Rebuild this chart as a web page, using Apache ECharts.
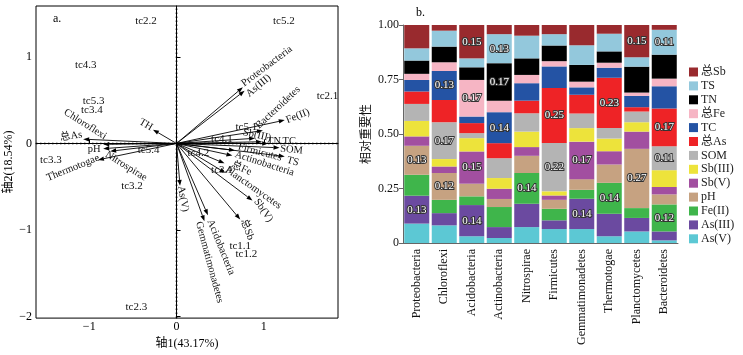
<!DOCTYPE html>
<html>
<head>
<meta charset="utf-8">
<script src="https://cdn.jsdelivr.net/npm/echarts@6/dist/echarts.min.js"></script>
<style>
html, body { margin: 0; padding: 0; background: #fff; }
#show { width: 743px; height: 355px; }
</style>
</head>
<body>
<div id="show"></div>
<script>
var myChart = echarts.init(document.getElementById("show"));
var SERIF = "'Liberation Serif', 'Noto Sans CJK SC', serif";

// ---- a. RDA biplot ----
var sampleNames = ["tc2.2", "tc5.2", "tc4.3", "tc2.1", "tc5.3", "tc3.4", "tc3.3", "tc5.1", "tc4.1", "tc5.4", "tc4.2", "tc3.1", "tc3.2", "tc1.1", "tc1.2", "tc2.3"];
var sampleX = [-0.35, 1.23, -1.04, 1.73, -0.95, -0.97, -1.44, 0.80, 0.52, -0.32, 0.25, 0.52, -0.51, 0.73, 0.80, -0.46];
var sampleY = [1.41, 1.41, 0.91, 0.55, 0.49, 0.39, -0.19, 0.19, 0.05, -0.08, -0.11, -0.31, -0.49, -1.19, -1.28, -1.89];

var arrowNames = ["Proteobacteria", "As(III)", "Bacteroidetes", "Fe(II)", "Sb(III)", "TN", "TC", "SOM", "TS",
    "Firmicutes", "Actinobacteria", "总Fe", "Planctomycetes", "Sb(V)", "总Sb", "Acidobacteria", "Gemmatimonadetes",
    "As(V)", "TH", "Chloroflexi", "总As", "pH", "Nitrospirae", "Thermotogae"];
var arrowX = [0.76, 0.78, 0.99, 1.24, 0.90, 0.98, 1.05, 1.18, 1.24, 0.67, 0.64, 0.55, 0.56, 0.87, 0.73, 0.36, 0.32, 0.04, -0.27, -0.84, -1.07, -0.84, -0.76, -0.90];
var arrowY = [0.65, 0.61, 0.15, 0.27, 0.06, 0.02, 0.00, -0.05, -0.15, -0.08, -0.14, -0.23, -0.34, -0.66, -0.88, -0.83, -0.90, -0.49, 0.16, -0.01, 0.05, -0.06, -0.09, -0.19];

// label offset from arrow tip in px, and rotation in degrees
var arrowLabelPos = {
    "Proteobacteria": [24, -21, 37],
    "As(III)": [14, -5, 40],
    "Bacteroidetes": [15, -23, 43],
    "Fe(II)": [13, -4, 22],
    "Sb(III)": [2, -3, -12],
    "TN": [12, 0, 0],
    "TC": [21, -2, 0],
    "SOM": [12, 2, -5],
    "TS": [8, 5, -15],
    "Firmicutes": [25, 2, -15],
    "Actinobacteria": [32, 8, -18],
    "总Fe": [17, 5, -25],
    "Planctomycetes": [28, 15, -35],
    "Sb(V)": [11, 10, -55],
    "总Sb": [7, 10, -70],
    "Acidobacteria": [13, 32, -68],
    "Gemmatimonadetes": [5, 41, -75],
    "As(V)": [3, 13, -80],
    "TH": [-7, -5, -30],
    "Chloroflexi": [-18, -20, -32],
    "总As": [-12, -3, 8],
    "pH": [-9, 1, 0],
    "Nitrospirae": [16, 15, -32],
    "Thermotogae": [-25, 8, 22]
};

var rdaXMin = -1.61, rdaXMax = 1.85, rdaYMin = -2.02, rdaYMax = 1.59;

// ---- b. relative importance ----
var phyla = ["Proteobacteria", "Chloroflexi", "Acidobacteria", "Actinobacteria", "Nitrospirae", "Firmicutes",
    "Gemmatimonadetes", "Thermotogae", "Planctomycetes", "Bacteroidetes"];

var asV    = [0.089, 0.081, 0.031, 0.023, 0.073, 0.064, 0.064, 0.031, 0.053, 0.012];
var asIII  = [0.128, 0.056, 0.143, 0.050, 0.107, 0.040, 0.139, 0.103, 0.062, 0.041];
var feII   = [0.096, 0.061, 0.040, 0.092, 0.141, 0.053, 0.041, 0.142, 0.045, 0.124];
var pH     = [0.133, 0.123, 0.058, 0.037, 0.079, 0.041, 0.049, 0.084, 0.272, 0.046];
var sbV    = [0.043, 0.030, 0.148, 0.047, 0.040, 0.020, 0.172, 0.061, 0.079, 0.034];
var sbIII  = [0.071, 0.034, 0.061, 0.049, 0.071, 0.019, 0.062, 0.058, 0.043, 0.077];
var som    = [0.078, 0.169, 0.023, 0.091, 0.084, 0.222, 0.067, 0.049, 0.049, 0.110];
var totAs  = [0.057, 0.102, 0.046, 0.069, 0.058, 0.252, 0.086, 0.230, 0.020, 0.173];
var tc     = [0.053, 0.133, 0.030, 0.142, 0.080, 0.099, 0.034, 0.046, 0.052, 0.102];
var totFe  = [0.028, 0.040, 0.168, 0.053, 0.038, 0.024, 0.026, 0.023, 0.015, 0.035];
var tn     = [0.061, 0.072, 0.058, 0.172, 0.076, 0.072, 0.077, 0.052, 0.119, 0.110];
var ts     = [0.056, 0.073, 0.041, 0.133, 0.104, 0.052, 0.090, 0.081, 0.043, 0.114];
var totSb  = [0.107, 0.026, 0.153, 0.042, 0.049, 0.042, 0.093, 0.040, 0.148, 0.022];

// cells that carry a value label
var labelled = [["As(III)", 0], ["pH", 0], ["pH", 1], ["SOM", 1], ["TC", 1], ["As(III)", 2], ["Sb(V)", 2],
    ["总Fe", 2], ["总Sb", 2], ["TC", 3], ["TN", 3], ["TS", 3], ["Fe(II)", 4], ["SOM", 5], ["总As", 5],
    ["As(III)", 6], ["Sb(V)", 6], ["Fe(II)", 7], ["总As", 7], ["pH", 8], ["总Sb", 8], ["Fe(II)", 9],
    ["SOM", 9], ["总As", 9], ["TS", 9]];

var stackNames = ["As(V)", "As(III)", "Fe(II)", "pH", "Sb(V)", "Sb(III)", "SOM", "总As", "TC", "总Fe", "TN", "TS", "总Sb"];
var stackValues = [asV, asIII, feII, pH, sbV, sbIII, som, totAs, tc, totFe, tn, ts, totSb];
var stackColors = ["#5cc8d4", "#6b4aa0", "#3fb54b", "#c6a281", "#a24fa0", "#ede33b", "#b4b4b4", "#ee2326",
    "#2453a4", "#f6b5c4", "#000000", "#93c8dc", "#992a2e"];

function isLabelled(name, i) {
    for (var k = 0; k < labelled.length; k++) {
        if (labelled[k][0] === name && labelled[k][1] === i) return true;
    }
    return false;
}

var barSeries = stackNames.map(function (name, s) {
    return {
        name: name,
        type: 'bar',
        stack: 'rel',
        xAxisIndex: 1,
        yAxisIndex: 1,
        barCategoryGap: '9%',
        itemStyle: { color: stackColors[s] },
        label: {
            show: false,
            position: 'inside',
            color: '#fff',
            fontFamily: SERIF,
            fontSize: 11,
            textBorderColor: '#333',
            textBorderWidth: 2,
            formatter: function (p) { return p.value.toFixed(2); }
        },
        data: stackValues[s].map(function (v, i) {
            return isLabelled(name, i) ? { value: v, label: { show: true } } : v;
        })
    };
});

function renderArrow(params, api) {
    var name = arrowNames[params.dataIndex];
    var o = api.coord([0, 0]);
    var p = api.coord([api.value(0), api.value(1)]);
    var ang = Math.atan2(p[1] - o[1], p[0] - o[0]);
    var hl = 6, hw = 2.2;
    var bx = p[0] - hl * Math.cos(ang), by = p[1] - hl * Math.sin(ang);
    var nx = -Math.sin(ang) * hw, ny = Math.cos(ang) * hw;
    var lp = arrowLabelPos[name] || [8, 0, 0];
    return {
        type: 'group',
        children: [
            { type: 'line', shape: { x1: o[0], y1: o[1], x2: bx, y2: by }, style: { stroke: '#000', lineWidth: 0.9 } },
            { type: 'polygon', shape: { points: [[p[0], p[1]], [bx + nx, by + ny], [bx - nx, by - ny]] }, style: { fill: '#000' } },
            {
                type: 'text', x: p[0] + lp[0], y: p[1] + lp[1], rotation: lp[2] * Math.PI / 180,
                style: { text: name, fill: '#111', fontSize: 10.5, fontFamily: SERIF, align: 'center', verticalAlign: 'middle' }
            }
        ]
    };
}

function renderSample(params, api) {
    var p = api.coord([api.value(0), api.value(1)]);
    return {
        type: 'text', x: p[0], y: p[1],
        style: { text: sampleNames[params.dataIndex], fill: '#111', fontSize: 11, fontFamily: SERIF, align: 'center', verticalAlign: 'middle' }
    };
}

var minus = function (v) { return String(v).replace('-', '\u2212'); };

myChart.setOption({
    animation: false,
    textStyle: { fontFamily: SERIF },
    graphic: [
        { type: 'text', left: 53, top: 13, style: { text: 'a.', fontSize: 12, fontFamily: SERIF, fill: '#000' } },
        { type: 'text', left: 416, top: 7, style: { text: 'b.', fontSize: 12, fontFamily: SERIF, fill: '#000' } }
    ],
    legend: {
        data: stackNames.slice().reverse(),
        orient: 'vertical',
        left: 689,
        top: 66,
        padding: 0,
        itemWidth: 9,
        itemHeight: 9,
        itemGap: 1.9,
        icon: 'rect',
        selectedMode: false,
        textStyle: { fontFamily: SERIF, fontSize: 12, lineHeight: 9, color: '#222', padding: [0, 0, 0, -2] }
    },
    grid: [
        { left: 36, top: 6, width: 302, height: 317, show: true, borderColor: '#000', borderWidth: 1 },
        { left: 403, top: 25, width: 275, height: 218 }
    ],
    xAxis: [
        {
            type: 'value', gridIndex: 0, min: rdaXMin, max: rdaXMax,
            name: '轴1(43.17%)', nameLocation: 'middle', nameGap: 16,
            nameTextStyle: { fontFamily: SERIF, fontSize: 12, color: '#000' },
            axisLine: { lineStyle: { color: '#000' } },
            axisTick: { inside: true, length: 4, customValues: [-1, 0, 1], lineStyle: { color: '#000' } },
            axisLabel: { customValues: [-1, 0, 1], formatter: minus, fontFamily: SERIF, fontSize: 12, color: '#000', margin: 3 },
            splitLine: { show: false }
        },
        {
            type: 'category', gridIndex: 1, data: phyla,
            axisLine: { lineStyle: { color: '#666' } },
            axisTick: { show: false },
            axisLabel: { rotate: 90, fontFamily: SERIF, fontSize: 12, color: '#111', margin: 6, interval: 0 }
        }
    ],
    yAxis: [
        {
            type: 'value', gridIndex: 0, min: rdaYMin, max: rdaYMax,
            name: '轴2(18.54%)', nameLocation: 'middle', nameGap: 18,
            nameTextStyle: { fontFamily: SERIF, fontSize: 12, color: '#000' },
            axisLine: { lineStyle: { color: '#000' } },
            axisTick: { inside: true, length: 4, customValues: [-2, -1, 0, 1], lineStyle: { color: '#000' } },
            axisLabel: { customValues: [-2, -1, 0, 1], formatter: minus, fontFamily: SERIF, fontSize: 12, color: '#000', margin: 4 },
            splitLine: { show: false }
        },
        {
            type: 'value', gridIndex: 1, min: 0, max: 1, interval: 0.25,
            name: '相对重要性', nameLocation: 'middle', nameGap: 30,
            nameTextStyle: { fontFamily: SERIF, fontSize: 12, color: '#111' },
            axisLine: { show: true, lineStyle: { color: '#666' } },
            axisTick: { show: true, length: 4, lineStyle: { color: '#666' } },
            axisLabel: { fontFamily: SERIF, fontSize: 12, color: '#111', margin: 4,
                formatter: function (v) { return v === 0 ? '0' : v.toFixed(2); } },
            splitLine: { show: false }
        }
    ],
    series: [
        {
            type: 'line', xAxisIndex: 0, yAxisIndex: 0, symbol: 'none', silent: true,
            lineStyle: { color: '#000', width: 1.6, type: [1.5, 2.5] },
            data: [[0, rdaYMin], [0, rdaYMax]]
        },
        {
            type: 'line', xAxisIndex: 0, yAxisIndex: 0, symbol: 'none', silent: true,
            lineStyle: { color: '#000', width: 1.6, type: [1.5, 2.5] },
            data: [[rdaXMin, 0], [rdaXMax, 0]]
        },
        {
            type: 'custom', xAxisIndex: 0, yAxisIndex: 0, renderItem: renderArrow,
            data: arrowX.map(function (x, i) { return [x, arrowY[i]]; })
        },
        {
            type: 'custom', xAxisIndex: 0, yAxisIndex: 0, renderItem: renderSample,
            data: sampleX.map(function (x, i) { return [x, sampleY[i]]; })
        }
    ].concat(barSeries)
});
</script>
</body>
</html>
